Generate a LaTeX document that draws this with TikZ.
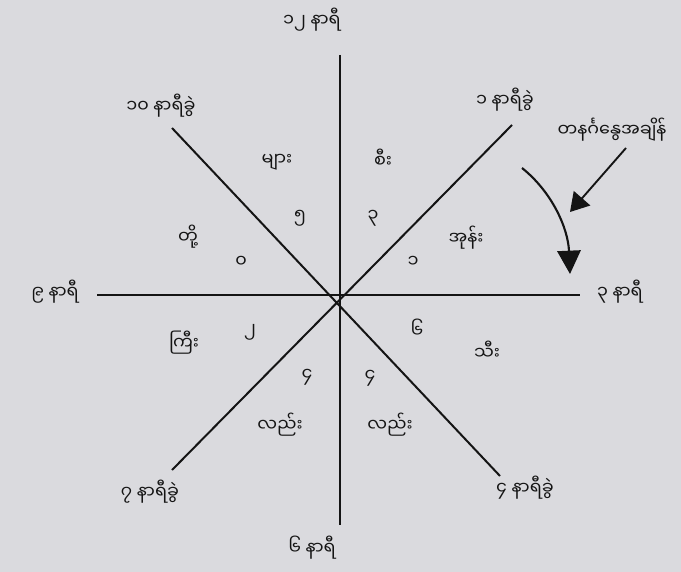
\documentclass[tikz,border=0pt]{standalone}
\usepackage{fontspec}
\usepackage{tikz}
\usetikzlibrary{arrows.meta}
\newfontfamily\mmfont[Script=Myanmar]{Noto Sans Myanmar UI}
\definecolor{paper}{HTML}{DADADE}
\definecolor{ink}{HTML}{141414}

\begin{document}
\begin{tikzpicture}[x=0.03cm,y=-0.03cm,
  lbl/.style={font=\mmfont\fontsize{15}{17}\selectfont,text=ink,inner sep=1pt},
  ray/.style={line width=1.7pt,ink},
  turn/.style={line width=1.8pt,ink,-{Triangle[length=7mm,width=7mm]}},
  hint/.style={line width=1.6pt,ink,-{Triangle[length=5.5mm,width=6.5mm]}}
]
\fill[paper] (0,0) rectangle (681,572);
\useasboundingbox (0,0) rectangle (681,572);

% hub and ray ends
\coordinate (c) at (340,295);
\coordinate (n) at (340,55);
\coordinate (s) at (340,525);
\coordinate (w) at (97,295);
\coordinate (e) at (580,295);
\coordinate (nw) at (172,128);
\coordinate (ne) at (512,125);
\coordinate (sw) at (172,470);
\coordinate (se) at (500,476);
\draw[ray] (n)--(s) (w)--(e);
\draw[ray] (nw)--(se) (ne)--(sw);

% hour labels
\node[lbl] (h12) at (312,20) {၁၂ နာရီ};
\node[lbl] (h1030) at (161,106) {၁၀ နာရီခွဲ};
\node[lbl] (h130) at (505,100) {၁ နာရီခွဲ};
\node[lbl] (h9) at (55,292) {၉ နာရီ};
\node[lbl] (h3) at (620,292) {၃ နာရီ};
\node[lbl] (h730) at (150,492) {၇ နာရီခွဲ};
\node[lbl] (h430) at (525,488) {၄ နာရီခွဲ};
\node[lbl] (h6) at (312,548) {၆ နာရီ};

% sector words and numbers
\node[lbl] (wmya) at (277,162) {များ};
\node[lbl] (wsi) at (383,158) {စီး};
\node[lbl] (d5) at (300,218) {၅};
\node[lbl] (d3) at (373,218) {၃};
\node[lbl] (wtoe) at (188,237) {တို့};
\node[lbl] (won) at (466,238) {အုန်း};
\node[lbl] (d0) at (241,262) {၀};
\node[lbl] (d1) at (413,262) {၁};
\node[lbl] (wgyi) at (184,343) {ကြီး};
\node[lbl] (d2) at (250,332) {၂};
\node[lbl] (d6) at (417,328) {၆};
\node[lbl] (wthi) at (487,350) {သီး};
\node[lbl] (d4l) at (307,377) {၄};
\node[lbl] (d4r) at (370,378) {၄};
\node[lbl] (wleL) at (280,425) {လည်း};
\node[lbl] (wleR) at (390,425) {လည်း};

% sunday time and its arrows
\node[lbl] (sun) at (612,130) {တနင်္ဂနွေအချိန်};
\coordinate (tip) at (570,212);
\coordinate (tail) at (626,148);
\draw[hint] (tail) -- (tip);
\coordinate (arcA) at (522,168);
\coordinate (arcB) at (570,274);
\draw[turn] (arcA) .. controls (552,192) and (568,228) .. (arcB);
\end{tikzpicture}
\end{document}
